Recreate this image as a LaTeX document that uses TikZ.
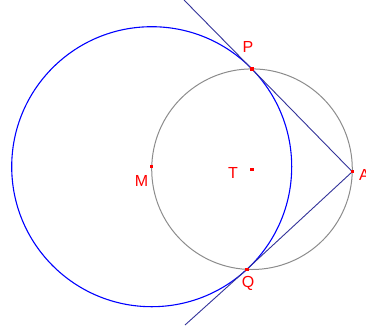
\documentclass[tikz,border=0pt]{standalone}
\usepackage{fontspec}
\setsansfont{Liberation Sans}
\usetikzlibrary{calc}
\definecolor{circ}{HTML}{0000FF}
\definecolor{tang}{HTML}{333399}
\definecolor{thal}{HTML}{8C8C8C}
\definecolor{pt}{HTML}{FF0000}

\begin{document}
\begin{tikzpicture}[x=1pt,y=-1pt,font=\fontsize{16}{18}\sffamily,text=pt]
  \useasboundingbox (0,0) rectangle (366,325);
  \clip (0,0) rectangle (366,325);
  \tikzset{
    mark dot/.style={fill=pt,draw=none},
    lbl/.style={inner sep=0pt,text=pt}}
  % points
  \coordinate (M) at (151.7,166.7);
  \coordinate (A) at (352.3,171.7);
  \coordinate (T) at (252,169.2);
  \coordinate (P) at (251.8,68.9);
  \coordinate (Q) at (246.8,269.3);
  \coordinate (Pend) at (184,0);
  \coordinate (Qend) at (185,325);
  % circles
  \draw[thal,line width=1pt] (T) circle (100.3);
  \draw[circ,line width=1.1pt] (M) circle (140);
  % tangents
  \draw[tang,line width=0.9pt] (Pend) -- (P) -- (A) -- (Q) -- (Qend);
  % dots
  \foreach \p in {M,A,T,P,Q}
    \fill[mark dot] ($(\p)+(-1.7,-1.7)$) rectangle ++(3.4,3.4);
  % labels
  \node[lbl] (lP) at (248,47) {P};
  \node[lbl] (lQ) at (248,283) {Q};
  \node[lbl] (lM) at (141.5,181) {M};
  \node[lbl] (lT) at (233,173) {T};
  \node[lbl,anchor=west] (lA) at (359,175) {A};
\end{tikzpicture}
\end{document}
